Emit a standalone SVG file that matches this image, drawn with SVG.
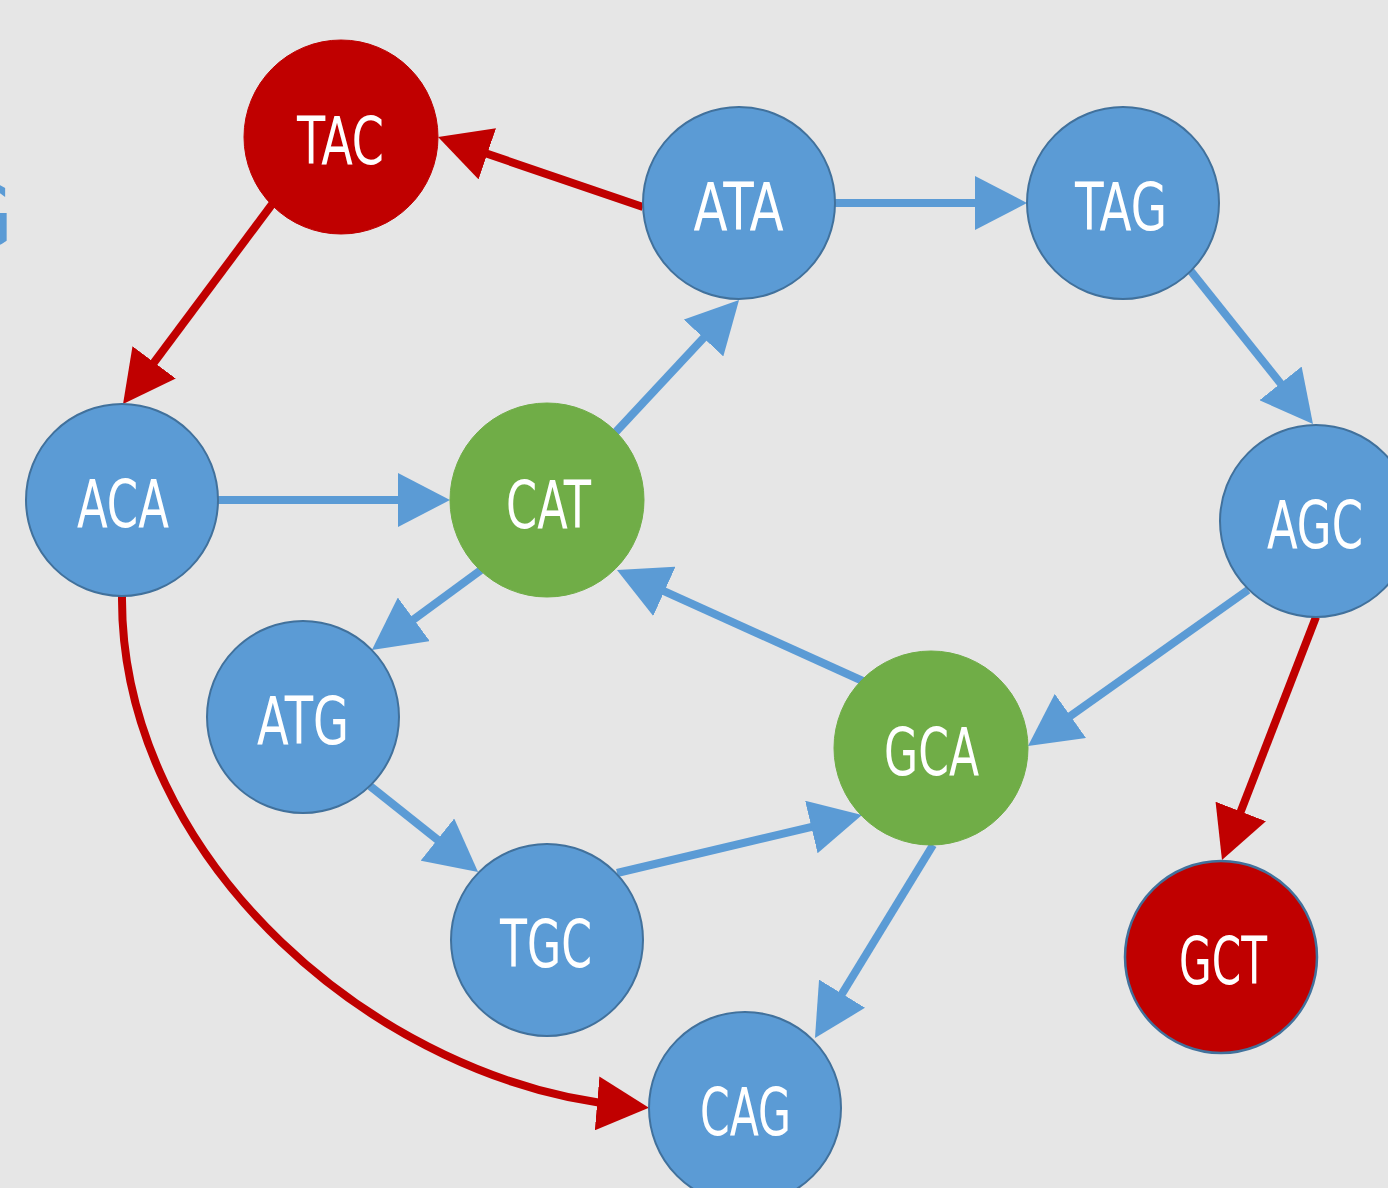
<svg xmlns="http://www.w3.org/2000/svg" width="1388" height="1188" viewBox="0 0 1388 1188">
<defs>
<style>
.blue{fill:#5b9bd5;stroke:#41719c;stroke-width:2}
.green{fill:#70ad47;stroke:#70ad47;stroke-width:1}
.red{fill:#c00000;stroke:#c00000;stroke-width:1}
.redb{fill:#c00000;stroke:#41719c;stroke-width:2.5}
.lbl{fill:#ffffff;font-family:"DejaVu Sans Condensed","Liberation Sans Narrow","DejaVu Sans",sans-serif;font-stretch:condensed;font-size:66px;text-anchor:middle}
.eb{fill:none;stroke:#5b9bd5;stroke-width:8;marker-end:url(#ab)}
.er{fill:none;stroke:#c00000;stroke-width:8;marker-end:url(#ar)}
</style>
<marker id="ab" markerUnits="userSpaceOnUse" markerWidth="52" markerHeight="54" refX="32" refY="27" orient="auto" viewBox="0 0 52 54"><path d="M0,0 L52,27 L0,54 z" fill="#5b9bd5"/></marker>
<marker id="ar" markerUnits="userSpaceOnUse" markerWidth="52" markerHeight="54" refX="32" refY="27" orient="auto" viewBox="0 0 52 54"><path d="M0,0 L52,27 L0,54 z" fill="#c00000"/></marker>
</defs>
<rect width="1388" height="1188" fill="#e6e6e6"/>
<text x="13" y="247" font-family="DejaVu Sans Condensed,DejaVu Sans,sans-serif" font-size="88" fill="#5b9bd5" text-anchor="end">G</text>
<g id="connectors">
<line class="er" x1="643" y1="207" x2="457" y2="143.5"/>
<line class="er" x1="273" y1="203" x2="135" y2="388"/>
<line class="eb" x1="835" y1="203" x2="1007" y2="203"/>
<line class="eb" x1="1190" y1="270" x2="1300.5" y2="408.4"/>
<line class="eb" x1="218" y1="500" x2="430" y2="500"/>
<line class="eb" x1="613" y1="435" x2="725.4" y2="314.6"/>
<line class="eb" x1="481" y1="570" x2="388" y2="638.2"/>
<line class="eb" x1="865" y1="682" x2="635.2" y2="578.2"/>
<line class="eb" x1="1248" y1="590" x2="1044.3" y2="734.4"/>
<line class="er" x1="1316" y1="617" x2="1229.2" y2="841.3"/>
<line class="eb" x1="370" y1="786" x2="462.4" y2="859.5"/>
<line class="eb" x1="617" y1="873" x2="842.5" y2="819.6"/>
<line class="eb" x1="933" y1="845" x2="825.4" y2="1021"/>
<path class="er" d="M122,596 C120,860 380,1085 629,1106"/>
</g>
<g id="TAC"><circle class="red" cx="341" cy="137" r="97"/><text class="lbl" x="340.5" y="164" textLength="87" lengthAdjust="spacingAndGlyphs">TAC</text></g>
<g id="ATA"><circle class="blue" cx="739" cy="203" r="96"/><text class="lbl" x="738.5" y="230" textLength="90" lengthAdjust="spacingAndGlyphs">ATA</text></g>
<g id="TAG"><circle class="blue" cx="1123" cy="203" r="96"/><text class="lbl" x="1121" y="230" textLength="92" lengthAdjust="spacingAndGlyphs">TAG</text></g>
<g id="ACA"><circle class="blue" cx="122" cy="500" r="96"/><text class="lbl" x="123" y="527" textLength="92" lengthAdjust="spacingAndGlyphs">ACA</text></g>
<g id="CAT"><circle class="green" cx="547" cy="500" r="97"/><text class="lbl" x="548.5" y="528" textLength="85" lengthAdjust="spacingAndGlyphs">CAT</text></g>
<g id="AGC"><circle class="blue" cx="1316" cy="521" r="96"/><text class="lbl" x="1315" y="548" textLength="96" lengthAdjust="spacingAndGlyphs">AGC</text></g>
<g id="ATG"><circle class="blue" cx="303" cy="717" r="96"/><text class="lbl" x="303" y="744" textLength="92" lengthAdjust="spacingAndGlyphs">ATG</text></g>
<g id="GCA"><circle class="green" cx="931" cy="748" r="97"/><text class="lbl" x="931.5" y="775" textLength="95" lengthAdjust="spacingAndGlyphs">GCA</text></g>
<g id="TGC"><circle class="blue" cx="547" cy="940" r="96"/><text class="lbl" x="546" y="967" textLength="92" lengthAdjust="spacingAndGlyphs">TGC</text></g>
<g id="GCT"><circle class="redb" cx="1221" cy="957" r="96"/><text class="lbl" x="1223" y="984" textLength="88" lengthAdjust="spacingAndGlyphs">GCT</text></g>
<g id="CAG"><circle class="blue" cx="745" cy="1108" r="96"/><text class="lbl" x="745.5" y="1135" textLength="91" lengthAdjust="spacingAndGlyphs">CAG</text></g>
</svg>
